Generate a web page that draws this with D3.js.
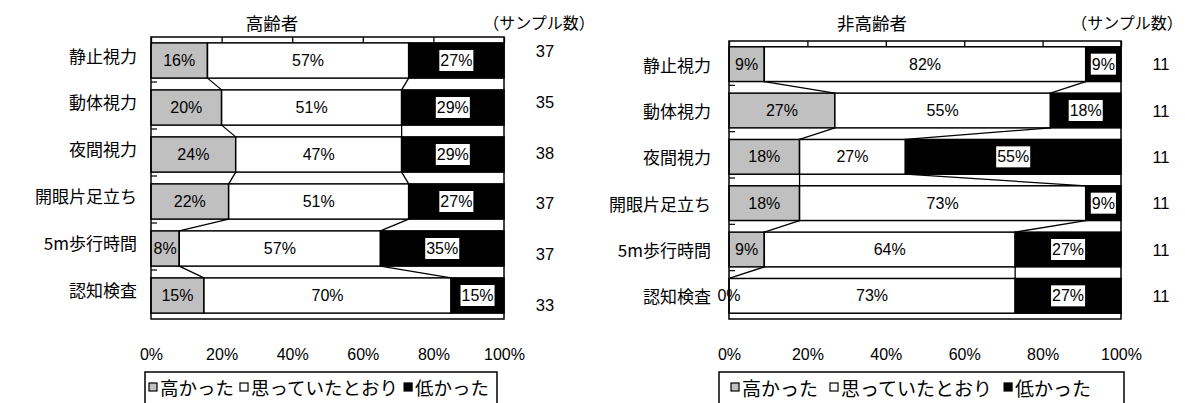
<!DOCTYPE html>
<html>
<head>
<meta charset="utf-8">
<script src="https://cdn.jsdelivr.net/npm/d3@7"></script>
<style>
  body { margin: 0; background: #fff; }
  svg { display: block; }
  text { font-family: "Liberation Sans", Arial, "Noto Sans CJK JP", sans-serif; fill: #000; }
  .jp { font-family: "Noto Sans CJK JP", "Liberation Sans", sans-serif; }
</style>
</head>
<body>
<svg id="chart" width="1185" height="403"></svg>
<script>
// Survey results: how each test result compared with the respondent's own expectation
const categories = ["静止視力", "動体視力", "夜間視力", "開眼片足立ち", "5m歩行時間", "認知検査"];
const seriesNames = ["高かった", "思っていたとおり", "低かった"];
const seriesColors = ["#c0c0c0", "#ffffff", "#000000"];
const percentTicks = [0, 20, 40, 60, 80, 100];

// 高齢者 (%)
const elderlyHigh = [16, 20, 24, 22, 8, 15];
const elderlyAsExpected = [57, 51, 47, 51, 57, 70];
const elderlyLow = [27, 29, 29, 27, 35, 15];
const elderlySamples = [37, 35, 38, 37, 37, 33];

// 非高齢者 (%)
const nonElderlyHigh = [9, 27, 18, 18, 9, 0];
const nonElderlyAsExpected = [82, 55, 27, 73, 64, 73];
const nonElderlyLow = [9, 18, 55, 9, 27, 27];
const nonElderlySamples = [11, 11, 11, 11, 11, 11];

const svg = d3.select("#chart");

function drawPanel(cfg) {
  const g = svg.append("g");
  const rows = categories.map((c, i) => {
    const vals = [cfg.high[i], cfg.expected[i], cfg.low[i]];
    let acc = 0;
    const segs = vals.map((v, k) => { const s = { k, v, x0: acc, x1: acc + v }; acc += v; return s; });
    return { cat: c, segs, n: cfg.samples[i] };
  });

  const x = d3.scaleLinear().domain([0, 100]).range([cfg.left, cfg.right]);
  const y = d3.scaleBand().domain(categories).range([cfg.top, cfg.bottom])
    .paddingInner(cfg.pad).paddingOuter(cfg.pad / 2);
  const bw = y.bandwidth();
  const rowMid = i => y(categories[i]) + bw / 2;

  // stacked bars
  const rowG = g.selectAll("g.row").data(rows).join("g").attr("class", "row");
  rowG.selectAll("rect").data(d => d.segs.map(s => ({ ...s, cat: d.cat }))).join("rect")
    .attr("x", d => x(d.x0))
    .attr("y", d => y(d.cat))
    .attr("width", d => x(d.x1) - x(d.x0))
    .attr("height", bw)
    .attr("fill", d => seriesColors[d.k])
    .attr("stroke", "#000")
    .attr("stroke-width", 1.5);

  // series lines linking segment borders of neighbouring bars
  const links = [];
  for (let i = 0; i < rows.length - 1; i++) {
    for (let k = 0; k < 2; k++) {
      links.push({ xa: rows[i].segs[k].x1, xb: rows[i + 1].segs[k].x1, ya: y(rows[i].cat) + bw, yb: y(rows[i + 1].cat) });
    }
  }
  g.selectAll("line.series").data(links).join("line").attr("class", "series")
    .attr("x1", d => x(d.xa)).attr("x2", d => x(d.xb))
    .attr("y1", d => d.ya).attr("y2", d => d.yb)
    .attr("stroke", "#000").attr("stroke-width", 1.3);

  // plot frame
  g.append("rect")
    .attr("x", cfg.left).attr("y", cfg.top)
    .attr("width", cfg.right - cfg.left).attr("height", cfg.bottom - cfg.top)
    .attr("fill", "none").attr("stroke", "#000").attr("stroke-width", 1.5);

  // value axis ticks along the top edge, pointing inward
  const topAxis = g.append("g").attr("transform", `translate(0,${cfg.top})`)
    .call(d3.axisTop(x).tickValues(percentTicks).tickSizeInner(-(y(categories[0]) - cfg.top)).tickSizeOuter(0).tickFormat(""));
  topAxis.select(".domain").remove();
  topAxis.selectAll("line").attr("stroke", "#000").attr("stroke-width", 1.3);

  // category ticks between bars on the left edge
  const step = y.step();
  const catBounds = categories.slice(1).map(c => y(c) - step * cfg.pad / 2);
  g.selectAll("line.cattick").data(catBounds).join("line").attr("class", "cattick")
    .attr("x1", cfg.left).attr("x2", cfg.left + 6)
    .attr("y1", d => d - 2).attr("y2", d => d - 2)
    .attr("stroke", "#000").attr("stroke-width", 1.2);

  // percent tick labels below the plot
  const bottomAxis = g.append("g").attr("transform", `translate(0,${cfg.tickLabelY})`)
    .call(d3.axisBottom(x).tickValues(percentTicks).tickSize(0).tickFormat(d => d + "%"));
  bottomAxis.select(".domain").remove();
  bottomAxis.selectAll("text").attr("font-size", 16).attr("dy", "0.35em").attr("y", 0)
    .style("font-family", "'Liberation Sans', Arial, sans-serif");

  // category labels
  const catY = cfg.catScale ? cfg.catScale : rowMid;
  g.selectAll("text.cat").data(categories).join("text").attr("class", "cat jp")
    .attr("x", cfg.left - cfg.catGap)
    .attr("y", (d, i) => catY(i))
    .attr("text-anchor", "end").attr("dominant-baseline", "central")
    .attr("font-size", 17)
    .text(d => d);

  // segment value labels
  const labelData = [];
  rows.forEach(r => r.segs.forEach(s => labelData.push({ ...s, cat: r.cat })));
  const lab = g.selectAll("g.vlabel").data(labelData).join("g").attr("class", "vlabel")
    .attr("transform", d => `translate(${x((d.x0 + d.x1) / 2)},${y(d.cat) + bw / 2})`);
  lab.append("text")
    .attr("text-anchor", "middle").attr("dominant-baseline", "central")
    .attr("font-size", 16)
    .text(d => d.v + "%");
  lab.each(function (d) {
    if (d.k !== 2) return;
    const t = d3.select(this).select("text");
    const b = t.node().getBBox();
    d3.select(this).insert("rect", "text")
      .attr("x", b.x - 1).attr("y", b.y - 2)
      .attr("width", b.width + 2).attr("height", b.height + 4)
      .attr("fill", "#fff");
  });

  // sample sizes
  const ny = cfg.sampleScale ? cfg.sampleScale : rowMid;
  g.selectAll("text.n").data(rows).join("text").attr("class", "n")
    .attr("x", cfg.sampleX)
    .attr("y", (d, i) => ny(i))
    .attr("text-anchor", "middle").attr("dominant-baseline", "central")
    .attr("font-size", 16.5)
    .text(d => d.n);

  // titles
  g.append("text").attr("class", "jp").attr("x", cfg.titleX).attr("y", cfg.titleY)
    .attr("text-anchor", "middle").attr("dominant-baseline", "central")
    .attr("font-size", 17.5).text(cfg.title);
  g.append("text").attr("class", "jp").attr("x", cfg.sampleHeadX).attr("y", cfg.titleY)
    .attr("text-anchor", "middle").attr("dominant-baseline", "central")
    .attr("font-size", 16).text("（サンプル数）");

  // legend
  const lg = g.append("g").attr("transform", `translate(${cfg.legendLeft},${cfg.legendTop})`);
  lg.append("rect").attr("x", 0).attr("y", 0)
    .attr("width", cfg.legendWidth).attr("height", 40)
    .attr("fill", "#fff").attr("stroke", "#000").attr("stroke-width", 1.5);
  let cx = cfg.legendPad;
  seriesNames.forEach((name, k) => {
    lg.append("rect").attr("x", cx).attr("y", 11).attr("width", 8).attr("height", 8)
      .attr("fill", seriesColors[k]).attr("stroke", "#000").attr("stroke-width", 1.2);
    const t = lg.append("text").attr("class", "jp").attr("x", cx + 11).attr("y", 15)
      .attr("dominant-baseline", "central").attr("font-size", cfg.legendFont).text(name);
    cx += 11 + t.node().getComputedTextLength() + cfg.legendGap;
  });
}

drawPanel({
  high: elderlyHigh, expected: elderlyAsExpected, low: elderlyLow, samples: elderlySamples,
  left: 151, right: 504, top: 37, bottom: 319, pad: 0.25,
  catScale: d3.scaleLinear().domain([0, 5]).range([55, 289]), catGap: 14,
  tickLabelY: 354, sampleX: 545,
  sampleScale: d3.scaleLinear().domain([0, 5]).range([51, 305]),
  title: "高齢者", titleX: 272, titleY: 22, sampleHeadX: 539,
  legendLeft: 145, legendTop: 372, legendWidth: 352, legendPad: 4, legendGap: 6, legendFont: 18.5
});

drawPanel({
  high: nonElderlyHigh, expected: nonElderlyAsExpected, low: nonElderlyLow, samples: nonElderlySamples,
  left: 729, right: 1121, top: 41, bottom: 319, pad: 0.25, catScale: null, catGap: 18,
  tickLabelY: 354, sampleX: 1161, sampleScale: null,
  title: "非高齢者", titleX: 872, titleY: 22, sampleHeadX: 1127,
  legendLeft: 719, legendTop: 372, legendWidth: 405, legendPad: 12, legendGap: 12, legendFont: 19
});
</script>
</body>
</html>
